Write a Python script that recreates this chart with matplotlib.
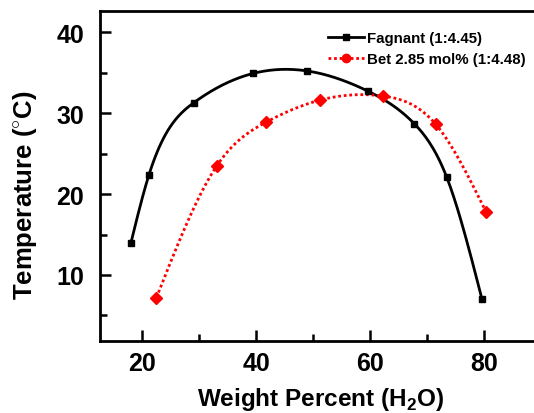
import numpy as np
import matplotlib
matplotlib.use("Agg")
import matplotlib.pyplot as plt
from matplotlib.lines import Line2D

# Data
fag_x = [18.0, 21.2, 29.1, 39.5, 48.9, 59.6, 67.7, 73.4, 79.6]
fag_y = [13.9, 22.4, 31.3, 34.9, 35.2, 32.7, 28.7, 22.1, 7.0]
bet_x = [22.5, 33.1, 41.8, 51.2, 62.2, 71.5, 80.3]
bet_y = [7.2, 23.5, 28.9, 31.6, 32.1, 28.6, 17.8]
labels = ["Fagnant (1:4.45)", "Bet 2.85 mol% (1:4.48)"]
xticks = [20, 40, 60, 80]
yticks = [10, 20, 30, 40]


def natural_spline(x, y, n=300):
    x = np.asarray(x, float)
    y = np.asarray(y, float)
    k = len(x)
    h = np.diff(x)
    A = np.zeros((k, k))
    b = np.zeros(k)
    A[0, 0] = 1
    A[-1, -1] = 1
    for i in range(1, k - 1):
        A[i, i - 1] = h[i - 1]
        A[i, i] = 2 * (h[i - 1] + h[i])
        A[i, i + 1] = h[i]
        b[i] = 6 * ((y[i + 1] - y[i]) / h[i] - (y[i] - y[i - 1]) / h[i - 1])
    M = np.linalg.solve(A, b)
    xs = np.linspace(x[0], x[-1], n)
    idx = np.clip(np.searchsorted(x, xs) - 1, 0, k - 2)
    x0, x1 = x[idx], x[idx + 1]
    hh = x1 - x0
    t0 = x1 - xs
    t1 = xs - x0
    ys = (M[idx] * t0 ** 3 / (6 * hh) + M[idx + 1] * t1 ** 3 / (6 * hh)
          + (y[idx] / hh - M[idx] * hh / 6) * t0
          + (y[idx + 1] / hh - M[idx + 1] * hh / 6) * t1)
    return xs, ys


plt.rcParams['font.family'] = ['Liberation Sans', 'DejaVu Sans']
plt.rcParams['font.weight'] = 'bold'
plt.rcParams['mathtext.fontset'] = 'custom'
plt.rcParams['mathtext.bf'] = 'Liberation Sans:bold'
plt.rcParams['mathtext.rm'] = 'Liberation Sans:bold'

fig = plt.figure(figsize=(5.34, 4.14), dpi=100)
ax_w = 441.3
ax_h = 330
ax = fig.add_axes([100 / 534, 72 / 414, ax_w / 534, ax_h / 414])

fx, fy = natural_spline(fag_x, fag_y)
bx, by = natural_spline(bet_x, bet_y)
ax.plot(fx, fy, color='black', lw=2.0, zorder=2)
ax.plot(fag_x, fag_y, 's', color='black', ms=5, zorder=3)
ax.plot(bx, by, color='red', lw=2.0, linestyle=(0, (1, 1)), zorder=2)
ax.plot(bet_x, bet_y, 'D', color='red', ms=6.5, zorder=3)

ax.set_xlim(12.6, 90)
ax.set_ylim(1.85, 42.6)
ax.set_xticks(xticks)
ax.set_yticks(yticks)
ax.set_xticks([30, 50, 70], minor=True)
ax.set_yticks([5, 15, 25, 35], minor=True)
ax.tick_params(which='both', direction='in', top=False, right=False, width=1.8)
ax.tick_params(which='major', length=8)
ax.tick_params(which='minor', length=5)
ax.tick_params(axis='y', which='major', pad=11.5, labelsize=18)
ax.tick_params(axis='x', which='major', pad=7.5, labelsize=18)
for lab in ax.get_xticklabels() + ax.get_yticklabels():
    lab.set_fontweight('bold')
for s in ax.spines.values():
    s.set_linewidth(2)

ax.set_xlabel('Weight Percent (H$_{2}$O)', fontsize=17.5, fontweight='bold')
ax.xaxis.set_label_coords(0.5, (342 - 386) / ax_h)
ax.set_ylabel('Temperature ($^{\\circ}$C)', fontsize=18.5, fontweight='bold')
ax.yaxis.set_label_coords((39 - 100) / ax_w, (342 - 195) / ax_h)

handles = [
    Line2D([], [], color='black', lw=2, marker='s', ms=5),
    Line2D([], [], color='red', lw=2, linestyle=(0, (1, 1)), marker='o', ms=6),
]
leg = ax.legend(handles, labels, loc='upper left', bbox_to_anchor=(228 / ax_w, 1 - 20 / ax_h),
                frameon=False, handlelength=2.4, handletextpad=0.2,
                labelspacing=0.45, borderpad=0, borderaxespad=0,
                prop={'weight': 'bold', 'size': 10.8})

fig.savefig('out.png', dpi=100)
